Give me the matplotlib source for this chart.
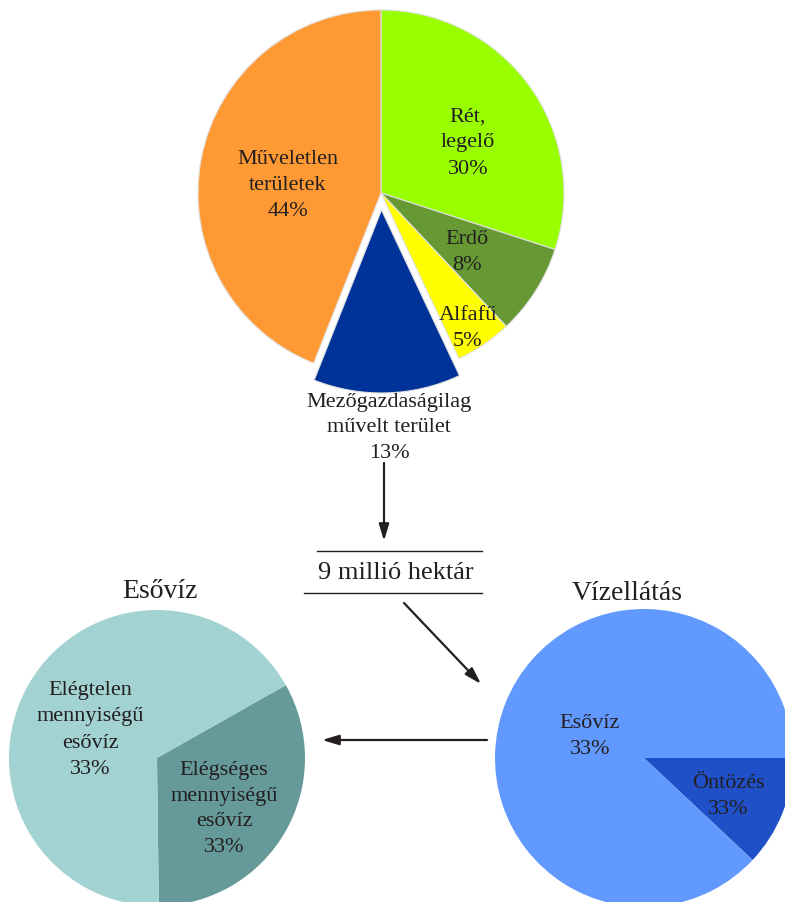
import matplotlib
matplotlib.use("Agg")
import matplotlib.pyplot as plt

plt.rcParams['font.family'] = ['Liberation Serif', 'DejaVu Serif']

W, H = 785, 902

# ---- data ----
land_labels = ["Rét,\nlegelő\n30%", "Erdő\n8%", "Alfafű\n5%",
               "Mezőgazdaságilag\nművelt terület\n13%", "Műveletlen\nterületek\n44%"]
land_values = [30, 8, 5, 13, 44]
land_colors = ["#99FF00", "#669933", "#FFFF00", "#003399", "#FF9933"]
land_explode = [0, 0, 0, 17, 0]

rain_labels = ["Elégséges\nmennyiségű\nesővíz\n33%", "Elégtelen\nmennyiségű\nesővíz\n33%"]
rain_values = [33, 67]
rain_colors = ["#669999", "#A3D2D2"]

supply_labels = ["Öntözés\n33%", "Esővíz\n33%"]
supply_values = [12, 88]
supply_colors = ["#2050C8", "#6199FF"]

total_text = "9 millió hektár"
titles = ["Esővíz", "Vízellátás"]

TXT = "#231f20"
LS = 1.5

fig = plt.figure(figsize=(W / 100, H / 100), dpi=100)
ax = fig.add_axes([0, 0, 1, 1])


def Y(yp):
    return H - yp


# ---- top pie ----
ax.pie(land_values, colors=land_colors, explode=land_explode, startangle=90,
       counterclock=False, center=(381, Y(193)), radius=183,
       wedgeprops=dict(edgecolor="#e0e0e0", linewidth=0.8))
land_pos = [(468, 143), (467, 252), (468, 328), (389, 428), (288, 185)]
for lab, (x, y) in zip(land_labels, land_pos):
    ax.text(x, Y(y), lab, ha="center", va="center", fontsize=16, color=TXT,
            linespacing=LS)

# ---- arrows and total ----
arrow_kw = dict(arrowstyle="-|>,head_length=1.0,head_width=0.3", color="#231f20", lw=1.6,
                shrinkA=0, shrinkB=0)
ax.annotate("", xy=(384, Y(541)), xytext=(384, Y(463)), arrowprops=arrow_kw)
ax.plot([317, 482], [Y(551), Y(551)], color="#231f20", lw=1)
ax.plot([304, 482], [Y(593), Y(593)], color="#231f20", lw=1)
ax.text(396, Y(573), total_text, ha="center", va="center", fontsize=19, color=TXT)
ax.annotate("", xy=(481, Y(684)), xytext=(404, Y(603)), arrowprops=arrow_kw)
ax.annotate("", xy=(322, Y(740)), xytext=(487, Y(740)), arrowprops=arrow_kw)

# ---- bottom-left pie ----
ax.pie(rain_values, colors=rain_colors, startangle=29.5, counterclock=False,
       center=(157, Y(758)), radius=148,
       wedgeprops=dict(edgecolor="none", linewidth=0))
rain_pos = [(224, 809), (90, 730)]
for lab, (x, y) in zip(rain_labels, rain_pos):
    ax.text(x, Y(y), lab, ha="center", va="center", fontsize=16, color=TXT,
            linespacing=LS)
ax.text(160, Y(592), titles[0], ha="center", va="center", fontsize=20, color=TXT)

# ---- bottom-right pie ----
ax.pie(supply_values, colors=supply_colors, startangle=0, counterclock=False,
       center=(644, Y(758)), radius=149,
       wedgeprops=dict(edgecolor="none", linewidth=0))
supply_pos = [(728, 797), (590, 737)]
for lab, (x, y) in zip(supply_labels, supply_pos):
    ax.text(x, Y(y), lab, ha="center", va="center", fontsize=16, color=TXT,
            linespacing=LS)
ax.text(627, Y(593), titles[1], ha="center", va="center", fontsize=20, color=TXT)

ax.set_xlim(0, W)
ax.set_ylim(0, H)
ax.set_aspect("equal")
ax.axis("off")

fig.savefig("out.png", dpi=100)
